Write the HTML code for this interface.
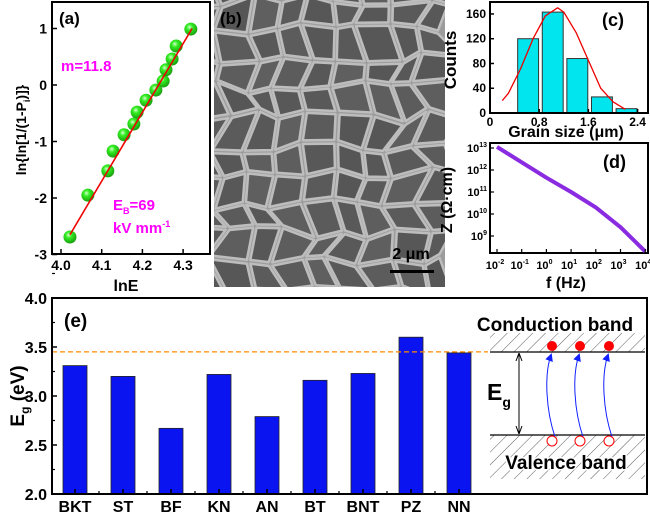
<!DOCTYPE html>
<html><head><meta charset="utf-8"><style>
body{margin:0;background:#fff}
svg{display:block;font-family:"Liberation Sans",Arial,sans-serif;font-weight:bold}
</style></head><body>
<svg id="fig" width="650" height="515" viewBox="0 0 650 515">
<g id="pa"></g>
<g id="pb"></g>
<g id="pc"></g>
<g id="pd"></g>
<g id="pe"></g>
</svg>
<script>
// Panel (a) Weibull data
const weibullLnE = [4.022,4.066,4.115,4.128,4.155,4.179,4.187,4.209,4.233,4.251,4.258,4.273,4.283,4.319];
const weibullY = [-2.69,-1.95,-1.52,-1.17,-0.88,-0.69,-0.48,-0.27,-0.09,0.07,0.27,0.46,0.69,0.99];
const weibullFitX = [4.022,4.322];
const weibullFitY = [-2.65,1.0];
const aXTicks = [4.0,4.1,4.2,4.3];
const aYTicks = [-3,-2,-1,0,1];
// Panel (c) histogram
const grainCenters = [0.62,1.02,1.42,1.82,2.22];
const grainCounts = [120,163,88,26,7];
const fitGrainX = [0.2,0.3,0.5,0.7,0.9,1.1,1.2,1.4,1.6,1.8,2.0,2.2];
const fitGrainY = [20,32,72,120,157,170,163,130,85,40,18,6];
const cXTicks = [0,0.8,1.6,2.4];
const cXLabels = ["0","0.8","1.6","2.4"];
const cYTicks = [0,40,80,120,160];
// Panel (d) impedance
const logFreq = [-2,-1,0,1,2,3,4];
const logZ = [13.05,12.35,11.65,11.0,10.3,9.4,8.3];
const dXExp = [-2,-1,0,1,2,3,4];
const dYExp = [9,10,11,12,13];
// Panel (e) band gaps
const materials = ["BKT","ST","BF","KN","AN","BT","BNT","PZ","NN"];
const bandGaps = [3.31,3.20,2.67,3.22,2.79,3.16,3.23,3.60,3.44];
const eYTicks = [2.0,2.5,3.0,3.5,4.0];
const refGap = 3.45;

const NS="http://www.w3.org/2000/svg";
function mk(parent,tag,attrs,text){const e=document.createElementNS(NS,tag);for(const k in attrs)e.setAttribute(k,attrs[k]);if(text!==undefined)e.textContent=text;parent.appendChild(e);return e;}

// ---------- Panel a ----------
(function(){
const g=document.getElementById('pa');
const L=52,R=210,T=2,B=254;
const sx=v=>61+(v-4.0)*407, sy=v=>85-v*56.5;
const fr=mk(g,'rect',{x:L,y:T,width:R-L,height:B-T,fill:'none',stroke:'#000','stroke-width':2});

aXTicks.forEach(v=>{mk(g,'line',{x1:sx(v),x2:sx(v),y1:B,y2:B-5,stroke:'#000','stroke-width':1.5});
 const t=mk(g,'text',{x:sx(v),y:B+16,'text-anchor':'middle','font-size':14},v.toFixed(1));
 });
aYTicks.forEach(v=>{mk(g,'line',{x1:L,x2:L+5,y1:sy(v),y2:sy(v),stroke:'#000','stroke-width':1.5});
 const t=mk(g,'text',{x:L-5,y:sy(v)+5,'text-anchor':'end','font-size':14},String(v));
 });
const xt=mk(g,'text',{x:126,y:291,'text-anchor':'middle','font-size':16},'lnE');

const yt=mk(g,'text',{x:0,y:0,transform:'translate(26,130) rotate(-90)','text-anchor':'middle','font-size':14},'');
yt.innerHTML='ln{ln[1/(1-P<tspan font-size="9" dy="4">i</tspan><tspan dy="-4">)]}</tspan>';

const defs=mk(g,'defs',{});
const rg=mk(defs,'radialGradient',{id:'ball',cx:'0.4',cy:'0.35',r:'0.65'});
mk(rg,'stop',{offset:'0','stop-color':'#d8ffd0'});mk(rg,'stop',{offset:'0.35','stop-color':'#33ee22'});mk(rg,'stop',{offset:'1','stop-color':'#1aa010'});
weibullLnE.forEach((v,i)=>{const c=mk(g,'circle',{cx:sx(v),cy:sy(weibullY[i]),r:6.5,fill:'url(#ball)'});
 });
const fl=mk(g,'line',{x1:sx(weibullFitX[0]),y1:sy(weibullFitY[0]),x2:sx(weibullFitX[1]),y2:sy(weibullFitY[1]),stroke:'#e00','stroke-width':1.6});

const la=mk(g,'text',{x:59,y:24,'font-size':17},'(a)');
const m=mk(g,'text',{x:61,y:71,'font-size':15,fill:'#f0f'},'m=11.8');
const eb=mk(g,'text',{x:113,y:210,'font-size':15,fill:'#f0f'},'');eb.innerHTML='E<tspan font-size="9" dy="4">B</tspan><tspan dy="-4">=69</tspan>';

const ku=mk(g,'text',{x:113,y:233,'font-size':15,fill:'#f0f'},'');ku.innerHTML='kV mm<tspan font-size="9" dy="-6">-1</tspan>';

})();

// ---------- Panel b (SEM texture) ----------
(function(){
const g=document.getElementById('pb');
const X0=214,Y0=0,W=231,H=287;
mk(g,'defs',{}).innerHTML='<clipPath id="semclip"><rect x="214" y="0" width="231" height="287"/></clipPath>';
const bg=mk(g,'rect',{x:X0,y:Y0,width:W,height:H,fill:'#9c9c9c'});

const cg=mk(g,'g',{'clip-path':'url(#semclip)'});
let s=9871;const rnd=()=>{s=(s*1103515245+12345)%2147483648;return s/2147483648;};
const step=29, nx=Math.ceil(W/step)+2, ny=Math.ceil(H/step)+2;
const P=[];
for(let j=0;j<ny;j++){P.push([]);for(let i=0;i<nx;i++){
 P[j].push([X0-step+i*step+(rnd()-0.5)*16+(j%2)*10, Y0-step+j*step+(rnd()-0.5)*16]);}}
for(let j=0;j<ny-1;j++)for(let i=0;i<nx-1;i++){
 const a=P[j][i],b=P[j][i+1],c=P[j+1][i+1],d=P[j+1][i];
 const cx=(a[0]+b[0]+c[0]+d[0])/4, cy=(a[1]+b[1]+c[1]+d[1])/4;
 const sh=v=>[cx+(v[0]-cx)*0.88, cy+(v[1]-cy)*0.88];
 const q=[sh(a),sh(b),sh(c),sh(d)];
 const path='M'+q.map(p=>p[0].toFixed(1)+','+p[1].toFixed(1)).join(' L')+' Z';
 const shade=86+Math.floor(rnd()*10);
 const r=mk(cg,'path',{d:path,fill:'rgb('+shade+','+shade+','+shade+')',stroke:'#bdbdbd','stroke-width':2.5,'stroke-linejoin':'round'});
 }
const lb=mk(g,'text',{x:220,y:24,'font-size':17},'(b)');
const st=mk(g,'text',{x:411,y:259,'text-anchor':'middle','font-size':16},'2 μm');
const sb=mk(g,'rect',{x:390,y:270,width:44,height:3,fill:'#000'});
})();

// ---------- Panel c ----------
(function(){
const g=document.getElementById('pc');
const L=490,R=648,T=2,B=113;
const sx=v=>490+v*61.5, sy=v=>B-v*0.619;
grainCenters.forEach((c,i)=>{const r=mk(g,'rect',{x:sx(c-0.17),y:sy(grainCounts[i]),width:0.34*61.5,height:B-sy(grainCounts[i]),fill:'#00e5ee',stroke:'#333','stroke-width':1});
 });
const pts=fitGrainX.map((v,i)=>sx(v)+','+sy(fitGrainY[i])).join(' ');
const fl=mk(g,'polyline',{points:pts,fill:'none',stroke:'#e00','stroke-width':1.3,'stroke-linejoin':'round'});

const fr=mk(g,'rect',{x:L,y:T,width:R-L,height:B-T,fill:'none',stroke:'#000','stroke-width':2});

cXTicks.forEach((v,i)=>{mk(g,'line',{x1:sx(v),x2:sx(v),y1:B,y2:B-4,stroke:'#000','stroke-width':1.5});
 const t=mk(g,'text',{x:sx(v),y:B+13,'text-anchor':'middle','font-size':12},cXLabels[i]);
 });
cYTicks.forEach(v=>{mk(g,'line',{x1:L,x2:L+4,y1:sy(v),y2:sy(v),stroke:'#000','stroke-width':1.5});
 const t=mk(g,'text',{x:L-4,y:sy(v)+4,'text-anchor':'end','font-size':12},String(v));
 });
const xt=mk(g,'text',{x:566,y:137,'text-anchor':'middle','font-size':16},'Grain size (μm)');
const yt=mk(g,'text',{x:0,y:0,transform:'translate(456,60) rotate(-90)','text-anchor':'middle','font-size':17},'Counts');
const lb=mk(g,'text',{x:602,y:26,'font-size':18},'(c)');
})();

// ---------- Panel d ----------
(function(){
const g=document.getElementById('pd');
const L=490,R=648,T=143,B=253;
const sx=v=>497+(v+2)*24.7, sy=v=>148+(13-v)*22;
const fr=mk(g,'rect',{x:L,y:T,width:R-L,height:B-T,fill:'none',stroke:'#000','stroke-width':2});

const pts=logFreq.map((v,i)=>sx(v)+','+sy(logZ[i])).join(' ');
const ln=mk(g,'polyline',{points:pts,fill:'none',stroke:'#8a2be2','stroke-width':4,'stroke-linejoin':'round'});

dXExp.forEach(v=>{mk(g,'line',{x1:sx(v),x2:sx(v),y1:B,y2:B-4,stroke:'#000','stroke-width':1.2});
 const t=mk(g,'text',{x:sx(v)-2,y:B+16,'text-anchor':'middle','font-size':11},'');t.innerHTML='10<tspan font-size="7" dy="-5">'+v+'</tspan>';
 });
dYExp.forEach(v=>{mk(g,'line',{x1:L,x2:L+4,y1:sy(v),y2:sy(v),stroke:'#000','stroke-width':1.2});
 const t=mk(g,'text',{x:L-3,y:sy(v)+4,'text-anchor':'end','font-size':11},'');t.innerHTML='10<tspan font-size="7" dy="-5">'+v+'</tspan>';
 });
const xt=mk(g,'text',{x:566,y:288,'text-anchor':'middle','font-size':16},'f (Hz)');
const yt=mk(g,'text',{x:0,y:0,transform:'translate(452,200) rotate(-90)','text-anchor':'middle','font-size':16},'Z (Ω·cm)');
const lb=mk(g,'text',{x:603,y:168,'font-size':18},'(d)');
})();

// ---------- Panel e ----------
(function(){
const g=document.getElementById('pe');
const L=52,R=647,T=298,B=494;
const sx=i=>75+i*48, sy=v=>B-(v-2.0)*98;
materials.forEach((m,i)=>{const r=mk(g,'rect',{x:sx(i)-12,y:sy(bandGaps[i]),width:24,height:B-sy(bandGaps[i]),fill:'#0a14f0',stroke:'#222','stroke-width':0.8});
 
 mk(g,'line',{x1:sx(i),x2:sx(i),y1:B,y2:B-5,stroke:'#000','stroke-width':1.5});
 if(i<materials.length-1) mk(g,'line',{x1:sx(i)+24,x2:sx(i)+24,y1:B,y2:B-3,stroke:'#000','stroke-width':1.2});
 const t=mk(g,'text',{x:sx(i),y:B+18,'text-anchor':'middle','font-size':16},m);
 });
const dl=mk(g,'line',{x1:L,x2:488,y1:sy(refGap),y2:sy(refGap),stroke:'#ff8c00','stroke-width':1.3,'stroke-dasharray':'5,3'});

const fr=mk(g,'rect',{x:L,y:T,width:R-L,height:B-T,fill:'none',stroke:'#000','stroke-width':2});

eYTicks.forEach(v=>{mk(g,'line',{x1:L,x2:L+5,y1:sy(v),y2:sy(v),stroke:'#000','stroke-width':1.5});
 mk(g,'line',{x1:L,x2:L+3,y1:sy(v+0.25),y2:sy(v+0.25),stroke:'#000','stroke-width':1.2});
 const t=mk(g,'text',{x:L-5,y:sy(v)+6,'text-anchor':'end','font-size':16},v.toFixed(1));
 });
const yt=mk(g,'text',{x:0,y:0,transform:'translate(24,396) rotate(-90)','text-anchor':'middle','font-size':19},'');
yt.innerHTML='E<tspan font-size="12" dy="5">g</tspan><tspan dy="-5"> (eV)</tspan>';

const lb=mk(g,'text',{x:64,y:327,'font-size':19},'(e)');
const bd=mk(g,'g',{});
const defs=mk(bd,'defs',{});
defs.innerHTML='<pattern id="hatch" width="9" height="9" patternUnits="userSpaceOnUse" patternTransform="rotate(45)"><line x1="0" y1="0" x2="0" y2="9" stroke="#333" stroke-width="0.8"/></pattern><marker id="ah" markerWidth="8" markerHeight="8" refX="6" refY="4" orient="auto"><path d="M0,0 L8,4 L0,8 z" fill="#1020ff"/></marker><marker id="ka" markerWidth="8" markerHeight="8" refX="7" refY="4" orient="auto-start-reverse"><path d="M0,1 L8,4 L0,7" fill="none" stroke="#000"/></marker>';
mk(bd,'rect',{x:490,y:333,width:155,height:19,fill:'url(#hatch)'});
mk(bd,'rect',{x:490,y:435,width:155,height:44,fill:'url(#hatch)'});
mk(bd,'line',{x1:490,x2:645,y1:352,y2:352,stroke:'#000','stroke-width':1.3});
mk(bd,'line',{x1:490,x2:645,y1:435,y2:435,stroke:'#000','stroke-width':1.3});
const cb=mk(bd,'text',{x:555,y:331,'text-anchor':'middle','font-size':19,stroke:'#fff','stroke-width':3,'paint-order':'stroke'},'Conduction band');

const vb=mk(bd,'text',{x:566,y:469,'text-anchor':'middle','font-size':19,stroke:'#fff','stroke-width':3,'paint-order':'stroke'},'Valence band');

mk(bd,'line',{x1:519,x2:519,y1:354,y2:433,stroke:'#000','stroke-width':1,'marker-start':'url(#ka)','marker-end':'url(#ka)'});
const eg=mk(bd,'text',{x:487,y:400,'font-size':23},'');eg.innerHTML='E<tspan font-size="14" dy="7">g</tspan>';

[552,580,609].forEach(x=>{
 mk(bd,'path',{d:'M'+(x+3)+',437 C'+(x-6)+',410 '+(x-8)+',375 '+(x-1)+',355',fill:'none',stroke:'#1020ff','stroke-width':1,'marker-end':'url(#ah)'});
 const e=mk(bd,'circle',{cx:x,cy:346,r:5,fill:'#f00'});
 const h=mk(bd,'circle',{cx:x,cy:441,r:5,fill:'#fff',stroke:'#f00','stroke-width':1});});
})();
</script>
</body></html>
